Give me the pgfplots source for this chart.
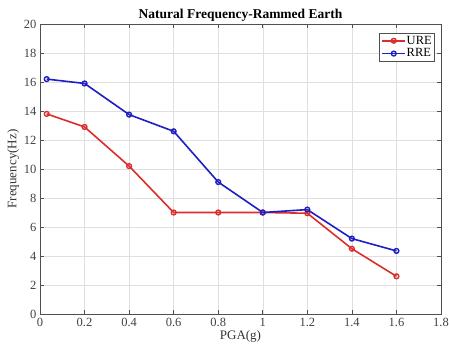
\documentclass[border=0pt]{standalone}
\usepackage{pgfplots}
\pgfplotsset{compat=1.18}
\usepackage{fontspec}
\setmainfont{Liberation Serif}
\definecolor{ure}{RGB}{220,45,45}
\definecolor{rre}{RGB}{30,30,195}
\definecolor{axgray}{RGB}{80,80,80}
\begin{document}
\begin{tikzpicture}
\begin{axis}[
  scale only axis,
  width=401pt, height=290pt,
  xmin=0, xmax=1.8, ymin=0, ymax=20,
  xtick={0,0.2,...,1.8},
  ytick={0,2,...,20},
  grid=major,
  grid style={gray!25, line width=0.4pt},
  axis line style={axgray, line width=0.9pt},
  tick style={axgray, line width=0.7pt},
  tick align=inside,
  major tick length=4pt,
  /pgf/number format/assume math mode=true,
  ticklabel style={font=\fontsize{12.5}{14}\selectfont, text=black!75},
  xticklabel style={yshift=-1pt},
  title={\textbf{Natural Frequency-Rammed Earth}},
  title style={font=\fontsize{13.5}{15}\selectfont, yshift=-7pt},
  xlabel={PGA(g)},
  ylabel={Frequency(Hz)},
  label style={font=\fontsize{13}{15}\selectfont, text=black!80},
  xlabel style={yshift=1pt, inner sep=1pt},
  ylabel style={yshift=-2pt},
  legend style={at={(0.985,0.97)}, anchor=north east, draw=axgray, line width=0.9pt,
    font=\fontsize{12.5}{13}\selectfont, inner sep=2pt, row sep=1.5pt,
    nodes={inner sep=0.8pt}},
  legend cell align=left,
  legend image code/.code={
    \draw[mark repeat=2,mark phase=2] plot coordinates {(0cm,0cm) (0.4cm,0cm) (0.8cm,0cm)};
  },
]
\addplot[ure, line width=1.6pt, mark=o, mark size=2.4pt, mark options={line width=1.4pt}]
  coordinates {(0.03,13.8) (0.2,12.9) (0.4,10.2) (0.6,7.0) (0.8,7.0) (1.0,7.0) (1.2,6.95) (1.4,4.5) (1.6,2.6)};
\addlegendentry{URE}
\addplot[rre, line width=1.6pt, mark=o, mark size=2.4pt, mark options={line width=1.4pt}]
  coordinates {(0.03,16.2) (0.2,15.9) (0.4,13.75) (0.6,12.6) (0.8,9.1) (1.0,7.0) (1.2,7.2) (1.4,5.2) (1.6,4.35)};
\addlegendentry{RRE}
\end{axis}
\pgfresetboundingbox
\path[use as bounding box] (-40pt,-31pt) rectangle (409pt,314pt);
\end{tikzpicture}
\end{document}
